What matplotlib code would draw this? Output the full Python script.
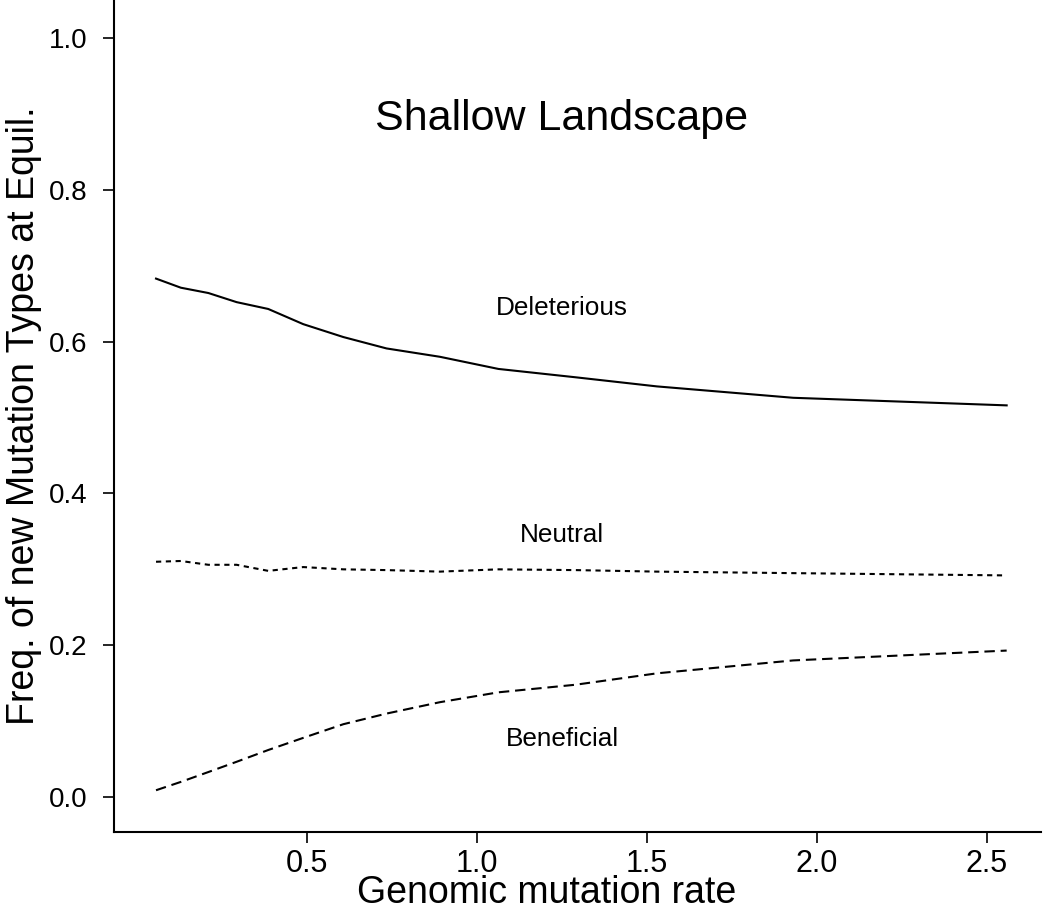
import matplotlib
matplotlib.use("Agg")
import matplotlib.pyplot as plt

plt.rcParams['font.family'] = ['Liberation Sans', 'DejaVu Sans']

# data
mut_rate = [0.056, 0.129, 0.21, 0.293, 0.386, 0.489, 0.607, 0.734, 0.891, 1.063, 1.29, 1.529, 1.93, 2.558]
deleterious = [0.683, 0.671, 0.664, 0.652, 0.643, 0.623, 0.606, 0.591, 0.580, 0.564, 0.553, 0.541, 0.526, 0.516]
neutral = [0.310, 0.311, 0.306, 0.306, 0.298, 0.303, 0.300, 0.299, 0.297, 0.300, 0.299, 0.297, 0.295, 0.292]
beneficial = [0.009, 0.020, 0.033, 0.0465, 0.062, 0.078, 0.096, 0.110, 0.125, 0.138, 0.148, 0.163, 0.180, 0.193]

xticks = [0.5, 1.0, 1.5, 2.0, 2.5]
yticks = [0.0, 0.2, 0.4, 0.6, 0.8, 1.0]

fig = plt.figure(figsize=(10.5, 9.06), dpi=100)
ax = fig.add_axes([114 / 1050, 74 / 906, 927 / 1050, 832 / 906])

ax.plot(mut_rate, deleterious, color='black', lw=1.5)
ax.plot(mut_rate, neutral, color='black', lw=1.5, dashes=(2.5, 2.2))
ax.plot(mut_rate, beneficial, color='black', lw=1.5, dashes=(5, 2.8))

ax.text(1.25, 0.879, "Shallow Landscape", ha='center', va='baseline', fontsize=31)
ax.text(1.25, 0.635, "Deleterious", ha='center', va='baseline', fontsize=18.8)
ax.text(1.25, 0.336, "Neutral", ha='center', va='baseline', fontsize=18.8)
ax.text(1.25, 0.067, "Beneficial", ha='center', va='baseline', fontsize=18.8)

ax.set_xlim(-0.0676, 2.659)
ax.set_ylim(-0.046, 1.05)
ax.set_xticks(xticks)
ax.set_xticklabels([f"{v:.1f}" for v in xticks], fontsize=22)
ax.set_yticks(yticks)
ax.set_yticklabels([f"{v:.1f}" for v in yticks], fontsize=20)
ax.tick_params(axis='both', direction='out', length=8, width=1.2, color='black')
ax.tick_params(axis='x', pad=4)
ax.tick_params(axis='y', pad=11)

for side in ['top', 'right']:
    ax.spines[side].set_visible(False)
for side in ['left', 'bottom']:
    ax.spines[side].set_linewidth(1.5)

fig.text(547 / 1050, 3 / 906, "Genomic mutation rate", ha='center', va='baseline', fontsize=27)
fig.text(24 / 1050, 1 - 416 / 906, "Freq. of new Mutation Types at Equil.", rotation=90,
         ha='center', va='center', fontsize=27)

fig.savefig("out.png", dpi=100)
